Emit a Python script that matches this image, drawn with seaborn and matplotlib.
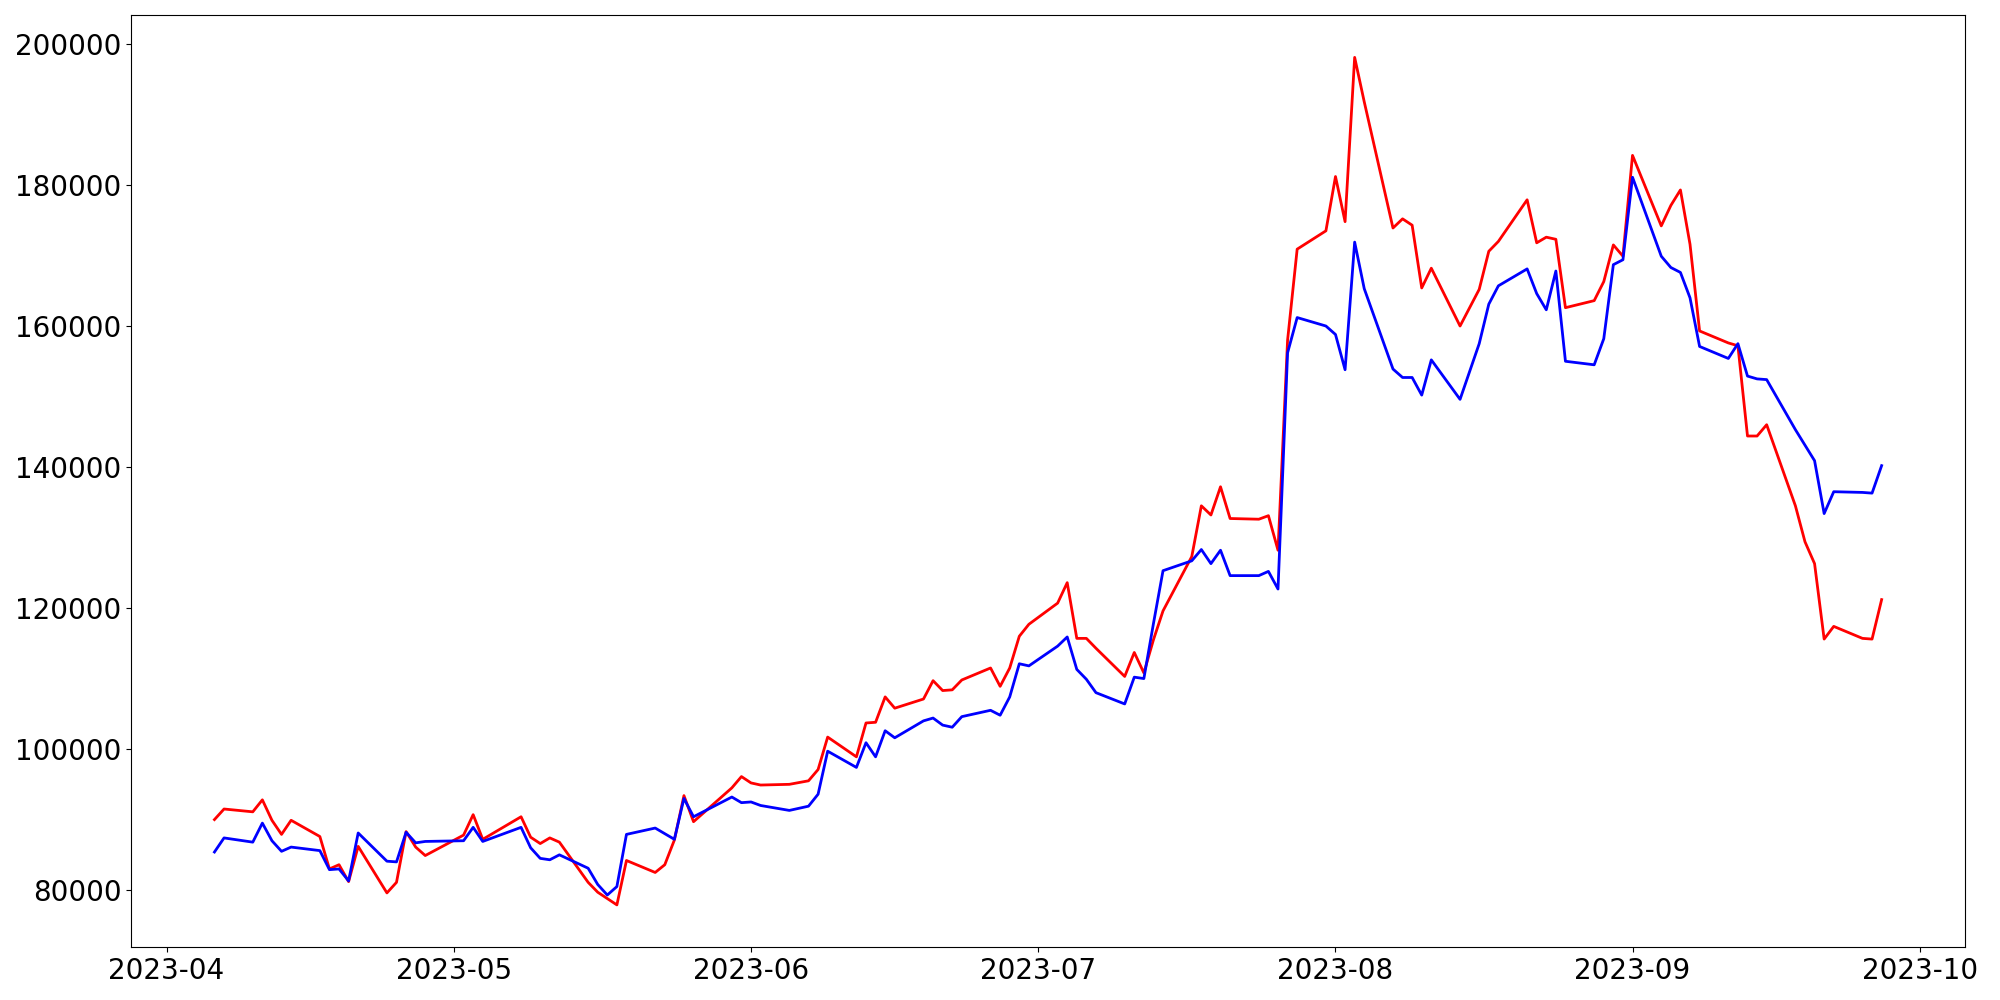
import matplotlib
matplotlib.use("Agg")
import matplotlib.pyplot as plt
import seaborn as sns
import numpy as np
import pandas as pd

# Trading days (KRX calendar) between 2023-04-06 and 2023-09-27
start_date = "2023-04-06"
end_date = "2023-09-27"
holidays = ["2023-05-01", "2023-05-05", "2023-05-29", "2023-06-06", "2023-08-15"]

red_values = [
    # April
    90000, 91500, 91100, 92800, 89900, 87900, 89900, 87600, 83000, 83600, 81200, 86200,
    79600, 81100, 88300, 86100, 84900,
    # May
    87800, 90700, 87200, 90400, 87500, 86600, 87400, 86800, 81100, 79700, 78800, 77900,
    84200, 82500, 83600, 87100, 93400, 89700, 94500, 96100,
    # June
    95200, 94900, 95000, 95500, 97100, 101700, 98900, 103700, 103800, 107400, 105800,
    107100, 109700, 108300, 108400, 109800, 111500, 108900, 111500, 116000, 117700,
    # July
    120700, 123600, 115700, 115700, 114300, 110300, 113700, 110800, 115500, 119600,
    127300, 134500, 133200, 137200, 132700, 132600, 133100, 128200, 158000, 170900, 173500,
    # August
    181200, 174800, 198100, 191800, 173900, 175200, 174300, 165400, 168200, 160000,
    165200, 170600, 172000, 177900, 171800, 172600, 172300, 162600, 163600, 166300,
    171500, 169900,
    # September
    184200, 174200, 177100, 179300, 171600, 159300, 157600, 157200, 144400, 144400,
    146000, 134500, 129400, 126300, 115600, 117400, 115700, 115600, 121200,
]

blue_values = [
    # April
    85400, 87400, 86800, 89500, 87000, 85500, 86100, 85600, 82900, 83000, 81300, 88100,
    84100, 84000, 88200, 86700, 86900,
    # May
    87000, 88900, 86900, 88900, 86000, 84500, 84300, 85000, 83100, 80800, 79300, 80500,
    87900, 88800, 88000, 87200, 93000, 90400, 93200, 92400,
    # June
    92500, 92000, 91300, 91900, 93600, 99700, 97400, 100900, 98900, 102600, 101600,
    104000, 104400, 103400, 103100, 104600, 105500, 104800, 107400, 112100, 111800,
    # July
    114600, 115900, 111300, 109900, 108000, 106400, 110200, 110000, 117800, 125300,
    126700, 128300, 126300, 128200, 124600, 124600, 125200, 122700, 156200, 161200, 160000,
    # August
    158800, 153800, 171900, 165300, 153900, 152700, 152700, 150200, 155200, 149600,
    157500, 163100, 165700, 168100, 164600, 162300, 167800, 155000, 154500, 158200,
    168700, 169400,
    # September
    181100, 169900, 168300, 167600, 164000, 157100, 155400, 157500, 152900, 152500,
    152400, 145300, 143100, 140900, 133400, 136500, 136400, 136300, 140200,
]

dates = pd.bdate_range(start_date, end_date, freq="C", holidays=holidays)
dates = np.array(dates.to_pydatetime())

fig, ax = plt.subplots(figsize=(20, 10), dpi=100)
sns.lineplot(x=dates, y=np.array(red_values), color="red", linewidth=2, ax=ax)
sns.lineplot(x=dates, y=np.array(blue_values), color="blue", linewidth=2, ax=ax)
ax.set_xlabel("")
ax.set_ylabel("")
ax.tick_params(axis="both", labelsize=20)
fig.tight_layout()
fig.savefig("out.png")
